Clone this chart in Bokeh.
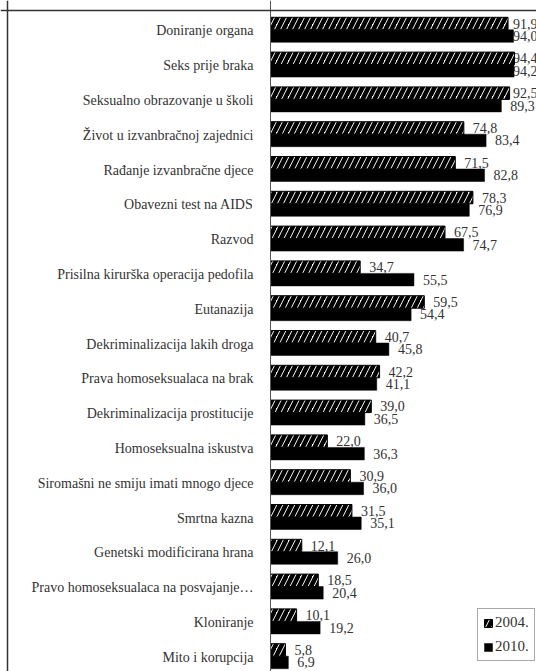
from bokeh.plotting import figure
from bokeh.models import Range1d, Span, Legend, LegendItem, ColumnDataSource
from bokeh.core.properties import value
from bokeh.embed import file_html
from bokeh.resources import INLINE

categories = ["Doniranje organa", "Seks prije braka", "Seksualno obrazovanje u školi",
              "Život u izvanbračnoj zajednici", "Rađanje izvanbračne djece",
              "Obavezni test na AIDS", "Razvod", "Prisilna kirurška operacija pedofila",
              "Eutanazija", "Dekriminalizacija lakih droga", "Prava homoseksualaca na brak",
              "Dekriminalizacija prostitucije", "Homoseksualna iskustva",
              "Siromašni ne smiju imati mnogo djece", "Smrtna kazna",
              "Genetski modificirana hrana", "Pravo homoseksualaca na posvajanje…",
              "Kloniranje", "Mito i korupcija"]
v2004 = [91.9, 94.4, 92.5, 74.8, 71.5, 78.3, 67.5, 34.7, 59.5, 40.7, 42.2, 39.0, 22.0,
         30.9, 31.5, 12.1, 18.5, 10.1, 5.8]
v2010 = [94.0, 94.2, 89.3, 83.4, 82.8, 76.9, 74.7, 55.5, 54.4, 45.8, 41.1, 36.5, 36.3,
         36.0, 35.1, 26.0, 20.4, 19.2, 6.9]
series_names = ["2004.", "2010."]

FONT = "Liberation Serif"
W, H = 536, 671
PX_PER_UNIT = 2.585
ROW_PX = 34.8
AXIS_PX = 270   # axis position from left of frame
BORDER_X = 7    # outer frame line
BORDER_Y = 10

x0 = -AXIS_PX / PX_PER_UNIT
x1 = (W - AXIS_PX) / PX_PER_UNIT
y_top = 29.3 / ROW_PX
y_bot = y_top - H / ROW_PX

p = figure(width=W, height=H, output_backend="svg", toolbar_location=None,
           x_range=Range1d(x0, x1), y_range=Range1d(y_bot, y_top),
           min_border_left=0, min_border_right=0, min_border_top=0, min_border_bottom=0)
p.axis.visible = False
p.grid.visible = False
p.outline_line_color = None
p.background_fill_color = "white"

n = len(categories)
ys = [-i for i in range(n)]
bh = 12.5 / ROW_PX
fmt = lambda v: f"{v:.1f}".replace(".", ",")
clamp = 90.3

src = ColumnDataSource(dict(
    y=ys, cat=categories,
    y04=[y + bh / 2 for y in ys], y10=[y - bh / 2 for y in ys],
    v04=v2004, v10=v2010,
    l04=[fmt(v) for v in v2004], l10=[fmt(v) for v in v2010],
    x04=[min(v, clamp) for v in v2004], x10=[min(v, clamp) for v in v2010],
    lx=[-17 / PX_PER_UNIT] * n,
))

# category labels
p.text(x="lx", y="y", text="cat", source=src, text_align="right", text_baseline="middle",
       y_offset=1, text_font=value(FONT), text_font_size="14px", text_color="#333333")
# value labels
p.text(x="x04", y="y04", text="l04", source=src, x_offset=9, text_align="left",
       text_baseline="middle", text_font=value(FONT), text_font_size="14px", text_color="#333333")
p.text(x="x10", y="y10", text="l10", source=src, x_offset=9, text_align="left",
       text_baseline="middle", text_font=value(FONT), text_font_size="14px", text_color="#333333")

r04 = p.hbar(y="y04", left=0, right="v04", height=bh, source=src,
             fill_color="white", line_color="black", line_width=1,
             hatch_pattern="/", hatch_color="black", hatch_scale=12, hatch_weight=4.5)
r10 = p.hbar(y="y10", left=0, right="v10", height=bh, source=src,
             fill_color="black", line_color="black", line_width=0.5)

p.add_layout(Span(location=0, dimension="height", line_color="#555555", line_width=1))
p.add_layout(Span(location=x0 + BORDER_X / PX_PER_UNIT, dimension="height",
                  line_color="#333333", line_width=1.5))
p.add_layout(Span(location=y_top - BORDER_Y / ROW_PX, dimension="width",
                  line_color="#333333", line_width=1.5))

legend = Legend(items=[LegendItem(label=series_names[0], renderers=[r04]),
                       LegendItem(label=series_names[1], renderers=[r10])],
                location=(477, 10), glyph_width=10, glyph_height=10,
                label_text_font=FONT, label_text_font_size="15px", label_text_color="#333333",
                label_height=14, label_standoff=2, spacing=7, padding=5, margin=0,
                border_line_color="#555555", border_line_width=1,
                background_fill_color="white", background_fill_alpha=1)
p.add_layout(legend)

open("out.html", "w").write(file_html(p, INLINE))
